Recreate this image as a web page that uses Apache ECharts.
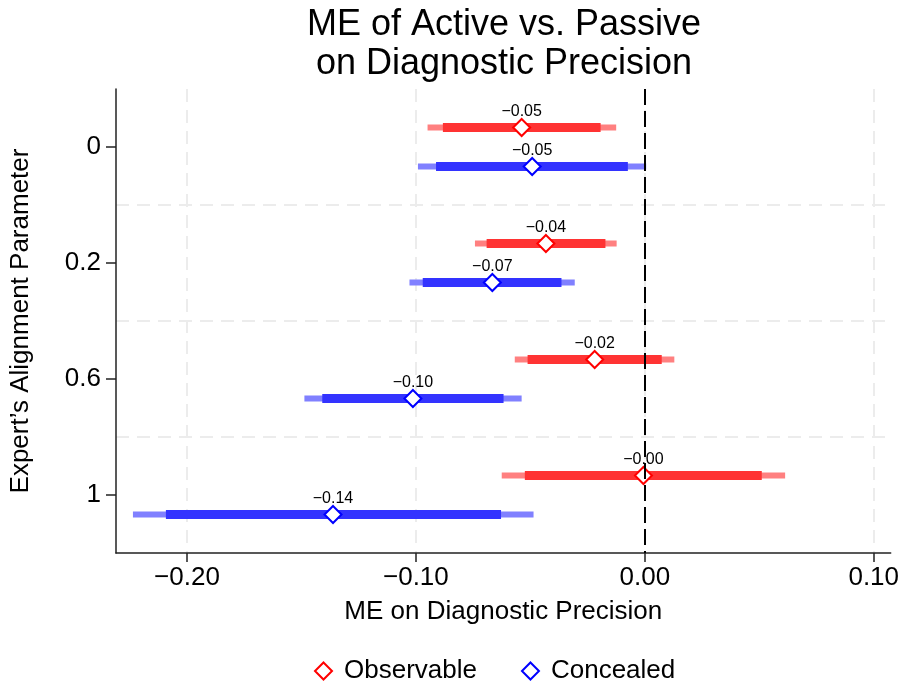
<!DOCTYPE html>
<html>
<head>
<meta charset="utf-8">
<script src="https://cdn.jsdelivr.net/npm/echarts@6/dist/echarts.min.js"></script>
<style>
  html, body { margin: 0; padding: 0; background: #fff; }
  #main { width: 902px; height: 681px; }
</style>
</head>
<body>
<div id="main"></div>
<script>
// y categories (expert's alignment parameter)
var categories = ['0', '0.2', '0.6', '1'];
var xTicks = [-0.2, -0.1, 0, 0.1];

// Observable: estimate, inner CI, outer CI
var obsEst  = [-0.0538, -0.0432, -0.0219, -0.0006];
var obsLo90 = [-0.0882, -0.0691, -0.0512, -0.0524];
var obsHi90 = [-0.0193, -0.0172,  0.0074,  0.0511];
var obsLo95 = [-0.0949, -0.0742, -0.0568, -0.0625];
var obsHi95 = [-0.0125, -0.0123,  0.0129,  0.0613];

// Concealed
var conEst  = [-0.0492, -0.0666, -0.1013, -0.1362];
var conLo90 = [-0.0912, -0.0970, -0.1409, -0.2092];
var conHi90 = [-0.0074, -0.0364, -0.0617, -0.0628];
var conLo95 = [-0.0991, -0.1028, -0.1487, -0.2236];
var conHi95 = [ 0.0006, -0.0306, -0.0538, -0.0486];

var FONT = '"Liberation Sans", Arial, Helvetica, sans-serif';

function fmt(v) {
  var s = v.toFixed(2);
  return s.replace('-', '\u2212');
}

function rows(est, lo90, hi90, lo95, hi95) {
  var out = [];
  for (var i = 0; i < est.length; i++) {
    out.push([i, est[i], lo90[i], hi90[i], lo95[i], hi95[i]]);
  }
  return out;
}

// draws outer bar, inner bar, hollow diamond and value label
function makeRender(edge, thick, thin, shift) {
  return function (params, api) {
    var yi = api.value(0);
    var band = api.size([0, 1])[1];
    var cy = api.coord([0, yi])[1] + band * shift;
    var xe = api.coord([api.value(1), yi])[0];
    var x90a = api.coord([api.value(2), yi])[0];
    var x90b = api.coord([api.value(3), yi])[0];
    var x95a = api.coord([api.value(4), yi])[0];
    var x95b = api.coord([api.value(5), yi])[0];
    var r = 8.5;
    return {
      type: 'group',
      children: [
        { type: 'rect', shape: { x: x95a, y: cy - 3, width: x95b - x95a, height: 6 }, style: { fill: thin } },
        { type: 'rect', shape: { x: x90a, y: cy - 4.5, width: x90b - x90a, height: 9 }, style: { fill: thick } },
        { type: 'polygon', shape: { points: [[xe, cy - r], [xe + r, cy], [xe, cy + r], [xe - r, cy]] },
          style: { fill: '#fff', stroke: edge, lineWidth: 2 } },
        { type: 'text', style: { text: fmt(api.value(1)), x: xe, y: cy - 8, align: 'center', verticalAlign: 'bottom',
          fontSize: 16, fontFamily: FONT, fill: '#000' } }
      ]
    };
  };
}

var gridDash = { color: '#ececec', width: 2, type: [13, 8] };
var diamond = 'path://M10,0L20,10L10,20L0,10Z';

var chart = echarts.init(document.getElementById('main'), null, { renderer: 'canvas' });
chart.setOption({
  animation: false,
  backgroundColor: '#fff',
  title: {
    text: 'ME of Active vs. Passive\non Diagnostic Precision',
    left: 504,
    top: 6,
    padding: 0,
    textAlign: 'center',
    textStyle: { fontSize: 36, fontWeight: 'normal', color: '#000', fontFamily: FONT, lineHeight: 39 }
  },
  legend: {
    left: 309,
    top: 653,
    itemWidth: 17,
    itemHeight: 17,
    itemGap: 44,
    textStyle: { fontSize: 26, color: '#000', fontFamily: FONT, padding: [0, 0, 0, 7] },
    data: [
      { name: 'Observable', icon: diamond, itemStyle: { color: '#fff', borderColor: '#ff0000', borderWidth: 2 } },
      { name: 'Concealed', icon: diamond, itemStyle: { color: '#fff', borderColor: '#0000ff', borderWidth: 2 } }
    ]
  },
  grid: { left: 115, right: 10, top: 89, bottom: 128 },
  xAxis: {
    type: 'value',
    min: -0.231,
    max: 0.1074,
    name: 'ME on Diagnostic Precision',
    nameLocation: 'middle',
    nameGap: 46,
    nameTextStyle: { fontSize: 26, color: '#000', fontFamily: FONT },
    axisLine: { show: true, onZero: false, lineStyle: { color: '#222', width: 1.5 } },
    axisTick: { show: true, length: 9, customValues: xTicks, lineStyle: { color: '#222', width: 1.5 } },
    axisLabel: { customValues: xTicks, fontSize: 26, color: '#000', fontFamily: FONT, margin: 12,
      formatter: function (v) { return fmt(v); } },
    splitLine: { show: true, lineStyle: gridDash }
  },
  yAxis: {
    type: 'category',
    data: categories,
    inverse: true,
    boundaryGap: true,
    name: 'Expert\u2019s Alignment Parameter',
    nameLocation: 'middle',
    nameGap: 82,
    nameTextStyle: { fontSize: 26, color: '#000', fontFamily: FONT },
    axisLine: { show: true, onZero: false, lineStyle: { color: '#222', width: 1.5 } },
    axisTick: { show: true, alignWithLabel: true, length: 10, lineStyle: { color: '#222', width: 1.5 } },
    axisLabel: { fontSize: 26, color: '#000', fontFamily: FONT, margin: 15 },
    splitLine: { show: true, showMinLine: false, showMaxLine: false, lineStyle: gridDash }
  },
  series: [
    {
      name: 'zero',
      type: 'line',
      data: [],
      z: 1,
      markLine: {
        silent: true,
        symbol: 'none',
        label: { show: false },
        lineStyle: { color: '#000', width: 2, type: [16, 6] },
        data: [{ xAxis: 0 }]
      }
    },
    {
      name: 'Observable',
      type: 'custom',
      z: 3,
      itemStyle: { color: '#ff0000' },
      encode: { x: [1, 2, 3, 4, 5], y: 0 },
      renderItem: makeRender('#ff0000', '#ff3333', '#ff8080', -0.168),
      data: rows(obsEst, obsLo90, obsHi90, obsLo95, obsHi95)
    },
    {
      name: 'Concealed',
      type: 'custom',
      z: 3,
      itemStyle: { color: '#0000ff' },
      encode: { x: [1, 2, 3, 4, 5], y: 0 },
      renderItem: makeRender('#0000ff', '#3333ff', '#8080ff', 0.168),
      data: rows(conEst, conLo90, conHi90, conLo95, conHi95)
    }
  ]
});
</script>
</body>
</html>
